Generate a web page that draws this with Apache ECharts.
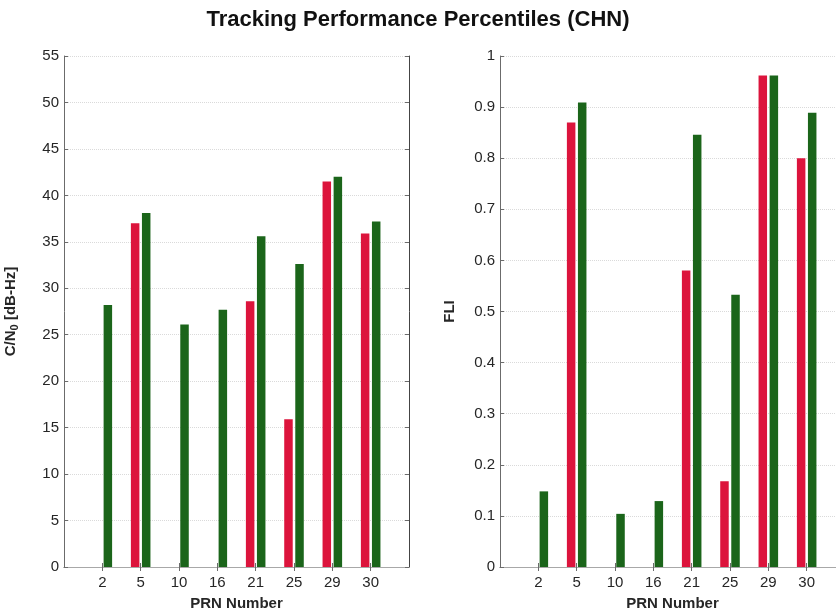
<!DOCTYPE html>
<html>
<head>
<meta charset="utf-8">
<script src="https://cdn.jsdelivr.net/npm/echarts@6/dist/echarts.min.js"></script>
<style>
  html, body { margin: 0; padding: 0; background: #fff; }
  #chart { width: 836px; height: 612px; }
</style>
</head>
<body>
<div id="chart"></div>
<script>
// PRN numbers; blank slots pad the axis at both ends
const prnLabels = ['', '2', '5', '10', '16', '21', '25', '29', '30', ''];

// C/N0 percentiles [dB-Hz]
const cn0Red   = [null, 0, 37.0, 0, 0, 28.6, 15.9, 41.5, 35.9, null];
const cn0Green = [null, 28.2, 38.1, 26.1, 27.7, 35.6, 32.6, 42.0, 37.2, null];

// FLI percentiles
const fliRed   = [null, 0, 0.87, 0, 0, 0.58, 0.168, 0.962, 0.80, null];
const fliGreen = [null, 0.148, 0.909, 0.104, 0.129, 0.846, 0.533, 0.962, 0.889, null];

const cn0Ticks = { min: 0, max: 55, interval: 5 };
const fliTicks = { min: 0, max: 1, interval: 0.1 };

const RED = '#DC143C';
const GREEN = '#1B651A';
const AXIS = '#6b6b6b';
const TEXT = '#262626';
const FONT = 'Liberation Sans, Arial, sans-serif';

const chart = echarts.init(document.getElementById('chart'));

const innerTick = (i) => i > 0 && i < prnLabels.length - 1;

function xAxes(gridIndex) {
  return [
    {
      type: 'category', gridIndex, data: prnLabels, boundaryGap: false,
      position: 'bottom',
      name: 'PRN Number', nameLocation: 'middle', nameGap: 29,
      nameTextStyle: { fontFamily: FONT, fontWeight: 'bold', fontSize: 15, color: TEXT },
      axisLine: { lineStyle: { color: AXIS, width: 1 } },
      axisTick: { inside: true, length: 4, lineStyle: { color: AXIS }, interval: innerTick },
      axisLabel: { fontFamily: FONT, fontSize: 15, color: TEXT, margin: 8, interval: 0 },
      splitLine: { show: false }
    },
    {
      type: 'category', gridIndex, data: prnLabels, boundaryGap: false,
      position: 'top',
      axisLine: { lineStyle: { color: '#a8a8a8', width: 1 } },
      axisTick: { inside: true, length: 4, lineStyle: { color: AXIS }, interval: innerTick },
      axisLabel: { show: false },
      splitLine: { show: false }
    }
  ];
}

function yAxes(gridIndex, ticks, nameCfg, decimals) {
  return [
    {
      type: 'value', gridIndex, position: 'left',
      min: ticks.min, max: ticks.max, interval: ticks.interval,
      name: nameCfg.text, nameLocation: 'middle', nameGap: nameCfg.gap, nameRotate: 90,
      nameTextStyle: {
        fontFamily: FONT, fontWeight: 'bold', fontSize: 15, color: TEXT,
        rich: {
          b: { fontFamily: FONT, fontWeight: 'bold', fontSize: 15, color: TEXT },
          sub: { fontFamily: FONT, fontWeight: 'bold', fontSize: 11, color: TEXT, verticalAlign: 'bottom', padding: [8, 0, 0, 0] }
        }
      },
      axisLine: { show: true, lineStyle: { color: AXIS, width: 1 } },
      axisTick: { show: true, inside: true, length: 4, lineStyle: { color: AXIS } },
      axisLabel: { fontFamily: FONT, fontSize: 15, color: TEXT, margin: 5,
                   formatter: (v) => decimals ? (v === 0 ? '0' : (v === 1 ? '1' : v.toFixed(decimals))) : String(v) },
      splitLine: { show: true, lineStyle: { color: '#dadada', type: [1, 1], width: 1 } }
    },
    {
      type: 'value', gridIndex, position: 'right',
      min: ticks.min, max: ticks.max, interval: ticks.interval,
      axisLine: { show: true, lineStyle: { color: '#444', width: 1 } },
      axisTick: { show: true, inside: true, length: 4, lineStyle: { color: AXIS } },
      axisLabel: { show: false },
      splitLine: { show: false }
    }
  ];
}

function barSeries(xi, yi, data, color) {
  return {
    type: 'bar', xAxisIndex: xi, yAxisIndex: yi, data,
    barWidth: 8.5, barGap: '30%',
    itemStyle: { color, borderWidth: 0 },
    silent: true, animation: false
  };
}

chart.setOption({
  animation: false,
  backgroundColor: '#ffffff',
  title: {
    text: 'Tracking Performance Percentiles (CHN)',
    left: 'center', top: 4,
    textStyle: { fontFamily: FONT, fontWeight: 'bold', fontSize: 22, color: '#111' }
  },
  grid: [
    { left: 64, top: 56, width: 345, height: 511, outerBoundsMode: 'none' },
    { left: 500, top: 56, width: 345, height: 511, outerBoundsMode: 'none' }
  ],
  xAxis: [...xAxes(0), ...xAxes(1)],
  yAxis: [
    ...yAxes(0, cn0Ticks, { text: '{b|C/N}{sub|0}{b| [dB-Hz]}', gap: 44 }, 0),
    ...yAxes(1, fliTicks, { text: 'FLI', gap: 43 }, 1)
  ],
  series: [
    barSeries(0, 0, cn0Red, RED),
    barSeries(0, 0, cn0Green, GREEN),
    barSeries(2, 2, fliRed, RED),
    barSeries(2, 2, fliGreen, GREEN)
  ]
});
</script>
</body>
</html>
